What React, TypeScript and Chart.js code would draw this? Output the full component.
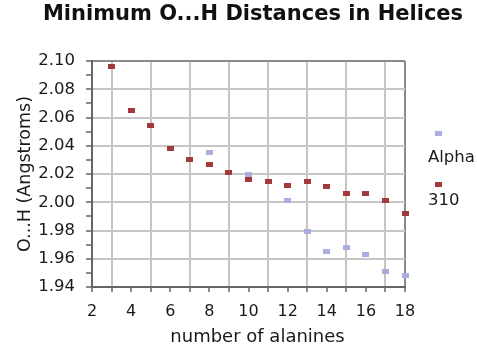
import React, { useEffect, useRef } from 'react';
import { Chart, registerables } from 'chart.js';

Chart.register(...registerables);

const chartTitle = 'Minimum O...H Distances in Helices';
const xAxisTitle = 'number of alanines';
const yAxisTitle = 'O...H (Angstroms)';
const seriesNames = ['Alpha', '310'];

const alphaAlanines = [8, 10, 12, 13, 14, 15, 16, 17, 18];
const alphaDistances = [2.035, 2.02, 2.001, 1.979, 1.965, 1.968, 1.963, 1.951, 1.948];

const helix310Alanines = [3, 4, 5, 6, 7, 8, 9, 10, 11, 12, 13, 14, 15, 16, 17, 18];
const helix310Distances = [
  2.096, 2.065, 2.054, 2.038, 2.03, 2.027, 2.021, 2.016, 2.015, 2.012, 2.015, 2.011, 2.006, 2.006,
  2.001, 1.992,
];

const xMin = 2;
const xMax = 18;
const yMin = 1.94;
const yMax = 2.1;

const alphaColor = '#a9aedf';
const helixColor = '#a23a3c';
const FONT = '"DejaVu Sans", "Liberation Sans", Arial, sans-serif';

function makeMarker(color: string): HTMLCanvasElement {
  const c = document.createElement('canvas');
  c.width = 7;
  c.height = 5;
  const g = c.getContext('2d')!;
  g.fillStyle = color;
  g.fillRect(0, 0, 7, 5);
  return c;
}

export default function App() {
  const ref = useRef<HTMLCanvasElement | null>(null);

  useEffect(() => {
    document.body.style.margin = '0';
    const canvas = ref.current!;
    const markers = [makeMarker(alphaColor), makeMarker(helixColor)];

    const decor = {
      id: 'decor',
      afterDraw(chart: any) {
        const ctx = chart.ctx as CanvasRenderingContext2D;
        ctx.save();
        ctx.fillStyle = '#111';
        ctx.textAlign = 'center';
        ctx.textBaseline = 'alphabetic';
        ctx.font = `bold 21px ${FONT}`;
        ctx.fillText(chartTitle, 253, 19.5);
        ctx.font = `18px ${FONT}`;
        ctx.fillStyle = '#1a1a1a';
        ctx.fillText(xAxisTitle, 257.5, 341.5);
        // legend
        ctx.textAlign = 'left';
        ctx.font = `16.5px ${FONT}`;
        const rows = [
          { my: 133, ty: 161.5 },
          { my: 184, ty: 205 },
        ];
        chart.data.datasets.forEach((ds: any, i: number) => {
          const r = rows[i];
          ctx.drawImage(markers[i], 435, r.my - 2.5);
          ctx.fillText(ds.label, 428, r.ty);
        });
        ctx.restore();
      },
    };

    const chart = new Chart(canvas, {
      type: 'scatter',
      data: {
        datasets: [
          {
            label: seriesNames[0],
            data: alphaAlanines.map((x, i) => ({ x, y: alphaDistances[i] })),
            pointStyle: markers[0] as any,
            backgroundColor: alphaColor,
            borderColor: alphaColor,
          },
          {
            label: seriesNames[1],
            data: helix310Alanines.map((x, i) => ({ x, y: helix310Distances[i] })),
            pointStyle: markers[1] as any,
            backgroundColor: helixColor,
            borderColor: helixColor,
          },
        ],
      },
      options: {
        animation: false,
        responsive: false,
        clip: false as any,
        layout: { padding: { top: 61, right: 72, left: 0, bottom: 0 } },
        plugins: {
          legend: { display: false },
          title: { display: false },
          tooltip: { enabled: false },
        },
        scales: {
          x: {
            type: 'linear',
            min: xMin,
            max: xMax,
            afterFit: (s: any) => {
              s.height = 59;
            },
            ticks: {
              stepSize: 1,
              autoSkip: false,
              maxRotation: 0,
              padding: 10,
              color: '#1a1a1a',
              font: { family: FONT, size: 16 },
              callback: (v: any) => (Math.round(v) % 2 === 0 ? String(Math.round(v)) : ''),
            },
            grid: {
              drawTicks: true,
              tickLength: 5,
              lineWidth: 2,
              color: (c: any) => {
                const v = Math.round(c.tick?.value ?? 0);
                if (v === xMax) return '#8a8a8a';
                if (v % 2 === 1) return '#cbc3bd';
                return 'rgba(0,0,0,0)';
              },
              tickColor: '#8a8a8a',
            },
            border: { color: '#666', width: 2 },
            title: { display: false },
          },
          y: {
            type: 'linear',
            min: yMin,
            max: yMax,
            afterFit: (s: any) => {
              s.width = 92;
            },
            ticks: {
              stepSize: 0.01,
              autoSkip: false,
              padding: 11,
              color: '#1a1a1a',
              font: { family: FONT, size: 16.5 },
              callback: (v: any) => (Math.round(v * 100) % 2 === 0 ? Number(v).toFixed(2) : ''),
            },
            grid: {
              drawTicks: true,
              tickLength: 6,
              lineWidth: 2,
              color: (c: any) => {
                const v = Math.round((c.tick?.value ?? 0) * 100);
                if (v === Math.round(yMax * 100)) return '#8a8a8a';
                if (v % 2 === 0) return '#c6c6c6';
                return 'rgba(0,0,0,0)';
              },
              tickColor: '#8a8a8a',
            },
            border: { color: '#666', width: 2 },
            title: {
              display: true,
              text: yAxisTitle,
              color: '#1a1a1a',
              font: { family: FONT, size: 17.5 },
              padding: { top: 14.5, bottom: 0 },
            },
          },
        },
      },
      plugins: [decor],
    });

    return () => chart.destroy();
  }, []);

  return (
    <div style={{ width: 477, height: 346 }}>
      <canvas ref={ref} width={477} height={346} />
    </div>
  );
}
